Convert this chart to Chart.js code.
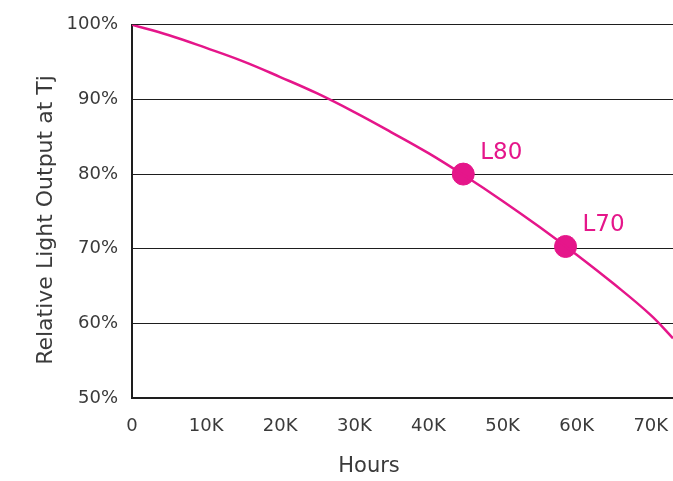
<!DOCTYPE html>
<html>
<head>
<meta charset="utf-8">
<script src="https://cdn.jsdelivr.net/npm/chart.js@4"></script>
<style>
  html, body { margin: 0; padding: 0; background: #fff; }
  #wrap { width: 673px; height: 481px; }
</style>
</head>
<body>
<div id="wrap"><canvas id="lumenChart"></canvas></div>
<script>
// hours (x) and relative light output % (y)
const hours = [0, 5000, 10000, 15000, 20000, 25000, 30000, 35000, 40000, 45000, 50000, 55000, 60000, 65000, 70000, 73000];
const output = [100, 98.6, 96.9, 95.1, 93.0, 90.8, 88.3, 85.6, 82.8, 79.7, 76.4, 72.9, 69.2, 65.3, 61.1, 58.0];

const markerNames = ["L80", "L70"];
const markerHours = [44700, 58500];
const markerOutput = [80, 70.3];

const yTicks = [50, 60, 70, 80, 90, 100];
const xTicks = [0, 10000, 20000, 30000, 40000, 50000, 60000, 70000];
const xMax = 73000;

const xTitle = "Hours";
const yTitle = "Relative Light Output at Tj";

const pink = "#E5168A";
const ink = "#3a3a3a";
const fontFam = "'DejaVu Sans', sans-serif";

const labelPlugin = {
  id: "labels",
  afterDatasetsDraw(chart) {
    const ctx = chart.ctx;
    const meta = chart.getDatasetMeta(1);
    ctx.save();
    ctx.fillStyle = pink;
    ctx.font = "23px " + fontFam;
    ctx.textBaseline = "middle";
    ctx.textAlign = "left";
    meta.data.forEach((pt, i) => {
      ctx.fillText(markerNames[i], pt.x + 17, pt.y - 21);
    });
    // axis titles
    ctx.fillStyle = ink;
    ctx.font = "21px " + fontFam;
    ctx.textAlign = "center";
    ctx.fillText(xTitle, 369, 467);
    ctx.font = "22px " + fontFam;
    ctx.translate(46, 220);
    ctx.rotate(-Math.PI / 2);
    ctx.fillText(yTitle, 0, 0);
    ctx.restore();
  }
};

new Chart(document.getElementById("lumenChart"), {
  type: "line",
  data: {
    datasets: [{
      data: hours.map((h, i) => ({ x: h, y: output[i] })),
      borderColor: pink,
      borderWidth: 2.5,
      pointRadius: 0,
      tension: 0.4,
      fill: false
    }, {
      type: "scatter",
      data: markerHours.map((h, i) => ({ x: h, y: markerOutput[i] })),
      backgroundColor: pink,
      borderColor: pink,
      pointRadius: 11,
      pointHoverRadius: 11,
      showLine: false
    }]
  },
  options: {
    responsive: true,
    maintainAspectRatio: false,
    animation: false,
    events: [],
    layout: { autoPadding: false, padding: { top: 22, right: 0, bottom: 0, left: 0 } },
    plugins: { legend: { display: false }, tooltip: { enabled: false } },
    scales: {
      x: {
        type: "linear",
        min: 0,
        max: xMax,
        // blank tick at the right edge so the last label doesn't pad the plot
        afterBuildTicks: s => { s.ticks = xTicks.concat([xMax]).map(v => ({ value: v })); },
        afterFit: s => { s.height = 83; },
        grid: { display: true, color: "rgba(0,0,0,0)", drawTicks: true, tickLength: 18, tickColor: "rgba(0,0,0,0)" },
        border: { display: true, color: "#1e1e1e", width: 2 },
        ticks: {
          padding: 0,
          color: ink,
          font: { family: fontFam, size: 18 },
          callback: v => v === xMax ? "" : v === 0 ? "0" : (v / 1000) + "K"
        }
      },
      y: {
        min: 50,
        max: 100,
        afterBuildTicks: s => { s.ticks = yTicks.map(v => ({ value: v })); },
        afterFit: s => { s.width = 132; },
        grid: { color: "#1e1e1e", lineWidth: 1, drawTicks: false },
        border: { display: true, color: "#1e1e1e", width: 2 },
        ticks: {
          padding: 14,
          color: ink,
          font: { family: fontFam, size: 18 },
          callback: v => v + "%"
        }
      }
    }
  },
  plugins: [labelPlugin]
});
</script>
</body>
</html>
